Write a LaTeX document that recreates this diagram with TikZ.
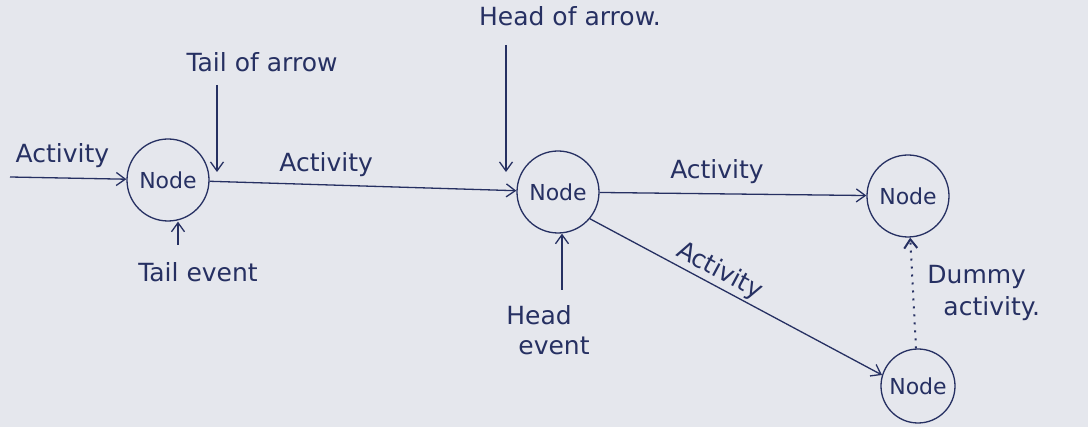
\documentclass[tikz,border=0pt]{standalone}
\usepackage{fontspec}
\setmainfont{DejaVu Sans}
\usepackage{tikz}
\usetikzlibrary{arrows.meta, positioning}
\definecolor{ink}{RGB}{38,48,98}
\definecolor{paper}{RGB}{229,231,237}
\newcommand\hw{\fontsize{25}{30}\selectfont}

\begin{document}
\begin{tikzpicture} [x=1pt, y=-1pt, >={Straight Barb[length=9pt, width=13pt]}, every node/.style={text=ink, font=\hw}, line width=1.3pt]
\fill[paper] (0,0) rectangle (1088,427);
\useasboundingbox (0,0) rectangle (1088,427);
\tikzset{event/.style={draw=ink, circle, minimum size=82pt, inner sep=0pt, font=\fontsize{22}{26}\selectfont}}
\node[event](n1) at (168,180){Node};
\node[event](n2) at (558,192){Node};
\node[event](n3) at (908,196){Node};
\node[event, minimum size=74pt](n4) at (918,386){Node};
\coordinate (start) at (10,177);
\coordinate (tailtop) at (217,85);
\coordinate (tailend) at (217,172);
\coordinate (headtop) at (506,45);
\coordinate (headend) at (506,172);
\coordinate (tev) at (178,245);
\coordinate (hev) at (562,290);
\draw [ink, ->](start) -- (n1) node[above, pos=.45, yshift=6pt]{Activity};
\draw [ink, ->](n1) -- (n2) node[above, pos=.38, yshift=4pt]{Activity};
\draw [ink, ->](n2) -- (n3) node[above, pos=.44, yshift=6pt]{Activity};
\draw [ink, ->](n2.-40) -- (n4.163) node[above, pos=.42, sloped, inner sep=2pt]{Activity};
\draw [ink, ->, dash pattern=on 2pt off 6pt, line width=2pt](n4) -- (n3) node[right, pos=.5, xshift=10pt, align=left]{Dummy\\[2pt]\hspace{16pt}activity.};
\draw [ink, ->](tailtop) -- (tailend);
\draw [ink, ->](headtop) -- (headend);
\draw [ink, ->](tev) -- (n1.south -| tev);
\draw [ink, ->](hev) -- (n2.south -| hev);
\node (tailarrow) at (262,62){Tail of arrow};
\node (headarrow) at (570,16){Head of arrow.};
\node (tailevent) at (198,272){Tail event};
\node[align=left] (headevent) at (548,330){Head\\\hspace{12pt}event};
\end{tikzpicture}
\end{document}
